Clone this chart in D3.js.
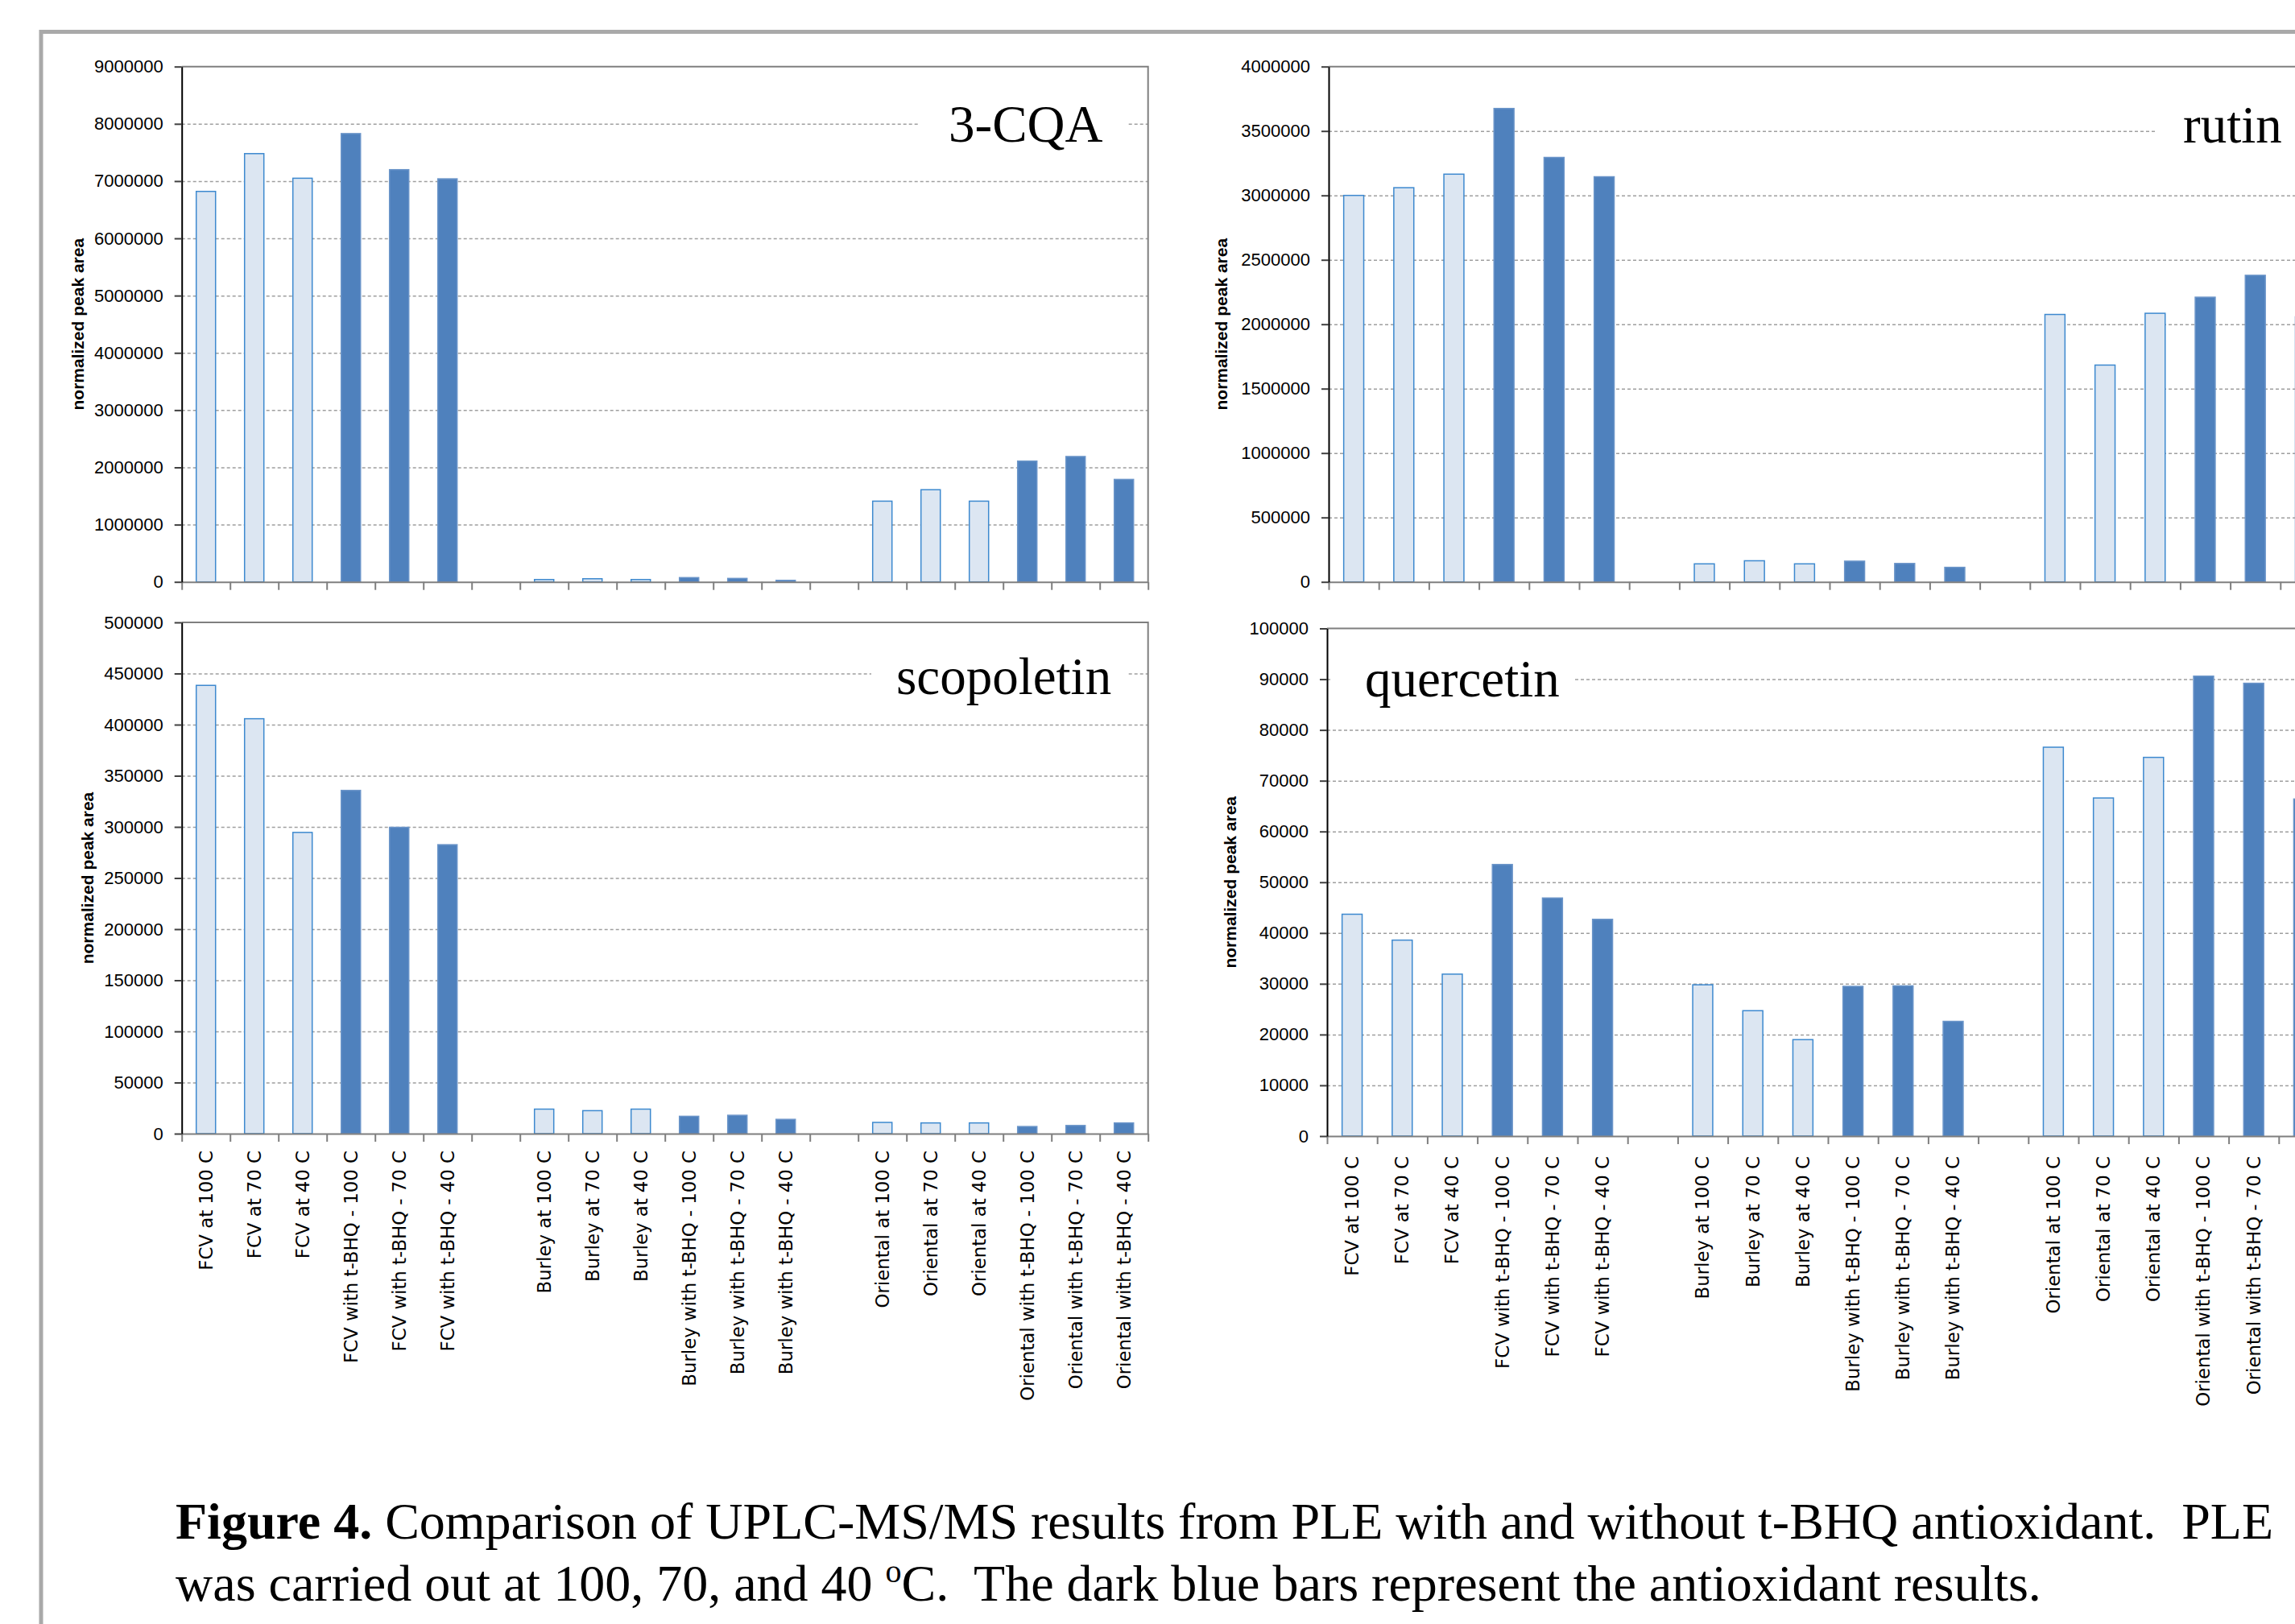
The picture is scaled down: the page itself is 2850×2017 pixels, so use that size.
<!DOCTYPE html>
<html>
<head>
<meta charset="utf-8">
<script src="https://d3js.org/d3.v7.min.js"></script>
<style>
 body { margin: 0; background: #fff; }
 .tick text { font-family: "Liberation Sans", Arial, sans-serif; fill: #000; }
 .yaxis text { font-size: 22px; }
 .yaxis path { stroke: #000; stroke-width: 2; }
 .yaxis line { stroke: #404040; stroke-width: 2; }
 .xedge path, .xedge line { stroke: #7f7f7f; stroke-width: 2; }
 .xlab text { font-family: "DejaVu Sans", Verdana, sans-serif; font-size: 22.8px; }
 .ytitle { font: bold 21px "Liberation Sans", Arial, sans-serif; }
 .grid line { stroke: #9f9f9f; stroke-dasharray: 4,3; stroke-width: 1.5; }
 .grid path { stroke-width: 0; }
 .name { font: 65px "Liberation Serif", "Times New Roman", serif; }
 .caption { font: 64px "Liberation Serif", "Times New Roman", serif; white-space: pre; }
</style>
</head>
<body>
<script>
// categories (blank slots separate the three tobacco types)
var categories = ["FCV at 100 C", "FCV at 70 C", "FCV at 40 C",
  "FCV with t-BHQ - 100 C", "FCV with t-BHQ - 70 C", "FCV with t-BHQ - 40 C", "",
  "Burley at 100 C", "Burley at 70 C", "Burley at 40 C",
  "Burley with t-BHQ - 100 C", "Burley with t-BHQ - 70 C", "Burley with t-BHQ - 40 C", "",
  "Oriental at 100 C", "Oriental at 70 C", "Oriental at 40 C",
  "Oriental with t-BHQ - 100 C", "Oriental with t-BHQ - 70 C", "Oriental with t-BHQ - 40 C"];

var cqa = [6820000, 7480000, 7050000, 7830000, 7200000, 7040000, null,
  41000, 55000, 41000, 75000, 61000, 27000, null,
  1410000, 1610000, 1410000, 2110000, 2190000, 1790000];
var rutin = [3000000, 3060000, 3165000, 3675000, 3295000, 3145000, null,
  140000, 164000, 140000, 161000, 143000, 113000, null,
  2076000, 1683000, 2085000, 2210000, 2380000, 2058000];
var scopoletin = [438400, 405800, 294600, 335700, 299600, 282600, null,
  24000, 22500, 24000, 17000, 18000, 14000, null,
  11000, 10500, 10500, 7000, 8000, 10500];
var quercetin = [43700, 38600, 31900, 53500, 46900, 42700, null,
  29800, 24700, 19000, 29500, 29600, 22600, null,
  76600, 66600, 74600, 90600, 89200, 66400];

var cqaTicks = [0, 1000000, 2000000, 3000000, 4000000, 5000000, 6000000, 7000000, 8000000, 9000000];
var rutinTicks = [0, 500000, 1000000, 1500000, 2000000, 2500000, 3000000, 3500000, 4000000];
var scopTicks = [0, 50000, 100000, 150000, 200000, 250000, 300000, 350000, 400000, 450000, 500000];
var querTicks = [0, 10000, 20000, 30000, 40000, 50000, 60000, 70000, 80000, 90000, 100000];

var panels = [
  {name: "3-CQA", values: cqa, ticks: cqaTicks, left: 225.7, top: 82.7, w: 1200, h: 640,
   titleX: 97, showX: false, lab: {x: 1178, y: 176, x0: 1142, x1: 1400}},
  {name: "rutin", values: rutin, ticks: rutinTicks, left: 1650, top: 82.7, w: 1244, h: 640,
   titleX: 1517, showX: false, lab: {x: 2711, y: 177, x0: 2678, x1: 2900}},
  {name: "scopoletin", values: scopoletin, ticks: scopTicks, left: 225.7, top: 773, w: 1200, h: 635,
   titleX: 109, showX: true, gap: 21, lab: {x: 1113, y: 862, x0: 1082, x1: 1401}},
  {name: "quercetin", values: quercetin, ticks: querTicks, left: 1648, top: 780.5, w: 1244, h: 630.5,
   titleX: 1528, showX: true, gap: 25, lab: {x: 1695, y: 865, x0: 1652, x1: 1954}}
];

var svg = d3.select("body").append("svg")
    .attr("width", 2850)
    .attr("height", 2017);

// grey page frame
svg.append("path")
    .attr("d", "M51,2017V39.5H2850")
    .attr("fill", "none")
    .attr("stroke", "#a9a9a9")
    .attr("stroke-width", 5);

panels.forEach(function(p) {
  var g = svg.append("g")
      .attr("transform", "translate(" + p.left + "," + p.top + ")");

  var x = d3.scaleBand()
      .domain(d3.range(categories.length))
      .range([0, p.w])
      .paddingInner(0.6)
      .paddingOuter(0.3);
  var xEdge = d3.scaleLinear()
      .domain([0, categories.length])
      .range([0, p.w]);
  var y = d3.scaleLinear()
      .domain([0, d3.max(p.ticks)])
      .range([p.h, 0]);

  g.append("g")
      .attr("class", "grid")
      .call(d3.axisLeft(y).tickValues(p.ticks.slice(1, -1)).tickSize(-p.w).tickFormat(""));

  // white box behind the compound name, breaks the gridline
  svg.append("rect")
      .attr("x", p.lab.x0)
      .attr("y", p.lab.y - 62)
      .attr("width", p.lab.x1 - p.lab.x0)
      .attr("height", 80)
      .attr("fill", "#fff");
  svg.append("text")
      .attr("class", "name")
      .attr("x", p.lab.x)
      .attr("y", p.lab.y)
      .text(p.name);

  // plot area border (top + right)
  g.append("path")
      .attr("d", "M0,0H" + p.w + "V" + p.h)
      .attr("fill", "none")
      .attr("stroke", "#7f7f7f")
      .attr("stroke-width", 2);

  var rows = p.values.map(function(v, i) { return {i: i, v: v, cat: categories[i]}; })
      .filter(function(d) { return d.v != null; });

  g.selectAll(".bar")
      .data(rows)
      .enter()
      .append("rect")
      .attr("class", "bar")
      .attr("x", function(d) { return x(d.i); })
      .attr("width", x.bandwidth())
      .attr("y", function(d) { return y(d.v); })
      .attr("height", function(d) { return p.h - y(d.v); })
      .attr("fill", function(d) { return d.cat.indexOf("t-BHQ") >= 0 ? "#4f81bd" : "#dce6f2"; })
      .attr("stroke", function(d) { return d.cat.indexOf("t-BHQ") >= 0 ? "#6b95c9" : "#3d89cf"; })
      .attr("stroke-width", 1.5);

  g.append("g")
      .attr("class", "xedge")
      .attr("transform", "translate(0," + p.h + ")")
      .call(d3.axisBottom(xEdge).tickValues(d3.range(categories.length + 1))
        .tickSize(10).tickSizeOuter(0).tickFormat(""));

  g.append("g")
      .attr("class", "yaxis")
      .call(d3.axisLeft(y).tickValues(p.ticks).tickSize(9).tickSizeOuter(0)
        .tickPadding(14).tickFormat(d3.format("d")));

  if (p.showX) {
    g.append("g")
        .attr("class", "xlab")
        .attr("transform", "translate(0," + p.h + ")")
        .call(d3.axisBottom(x).tickSize(0).tickFormat(function(i) { return categories[i]; }))
        .call(function(a) { a.select(".domain").remove(); })
        .selectAll("text")
        .attr("transform", "rotate(-90)")
        .attr("x", -p.gap)
        .attr("y", 0)
        .attr("dy", "0.35em")
        .style("text-anchor", "end");
  }

  svg.append("text")
      .attr("class", "ytitle")
      .attr("transform", "translate(" + p.titleX + "," + (p.top + p.h / 2) + ") rotate(-90)")
      .attr("dy", "0.35em")
      .attr("text-anchor", "middle")
      .text("normalized peak area");
});

// figure caption
var cap1 = svg.append("text").attr("class", "caption").attr("x", 218).attr("y", 1911);
cap1.append("tspan").attr("font-weight", "bold").text("Figure 4.");
cap1.append("tspan").text(" Comparison of UPLC-MS/MS results from PLE with and without t-BHQ antioxidant.  PLE");

var cap2 = svg.append("text").attr("class", "caption").attr("x", 218).attr("y", 1988);
cap2.append("tspan").text("was carried out at 100, 70, and 40 ");
cap2.append("tspan").attr("font-size", "40px").attr("dy", -23).text("o");
cap2.append("tspan").attr("dy", 23).text("C.  The dark blue bars represent the antioxidant results.");
</script>
</body>
</html>
